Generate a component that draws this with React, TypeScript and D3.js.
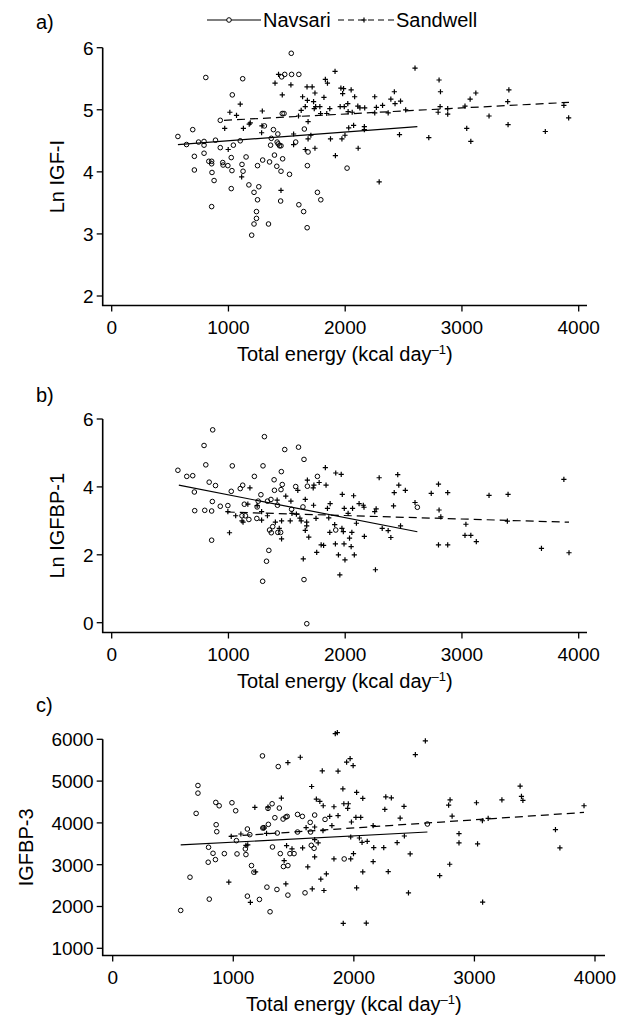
import React from "react";
import * as d3 from "d3";

// ---------- DATA ----------
const xTicks = [0, 1000, 2000, 3000, 4000];
const yTicksA = [2, 3, 4, 5, 6];
const yTicksB = [0, 2, 4, 6];
const yTicksC = [1000, 2000, 3000, 4000, 5000, 6000];
const seriesNames = ["Navsari", "Sandwell"];

// Panel a: Ln IGF-I
const navsariA: [number, number][] = [
  [567, 4.57], [641, 4.44], [694, 4.68], [708, 4.25], [708, 4.03], [744, 4.48], [791, 4.49], [791, 4.43],
  [791, 4.3], [806, 5.52], [832, 4.17], [856, 4.17], [856, 4.13], [859, 3.99], [856, 3.44], [877, 3.86],
  [889, 4.51], [930, 4.83], [930, 4.39], [951, 4.15], [954, 4.11], [995, 4.1], [1024, 4.23], [1024, 3.73],
  [1033, 5.24], [1030, 4.02], [1042, 4.43], [1101, 4.5], [1122, 5.5], [1116, 4.12], [1125, 4.01], [1151, 4.24],
  [1175, 3.79], [1219, 3.67], [1249, 3.55], [1260, 3.76], [1249, 4.1], [1240, 3.36], [1240, 3.25], [1219, 3.16],
  [1199, 2.98], [1293, 4.19], [1308, 4.74], [1343, 3.16], [1352, 4.16], [1367, 4.54], [1361, 4.43], [1385, 4.68],
  [1394, 4.27], [1414, 4.09], [1423, 4.61], [1417, 4.48], [1426, 4.45], [1438, 4.42], [1450, 4.42], [1450, 4.01],
  [1447, 3.53], [1456, 5.53], [1464, 4.21], [1461, 4.94], [1476, 4.94], [1482, 5.57], [1523, 3.96], [1538, 5.91],
  [1541, 5.57], [1576, 4.48], [1603, 5.57], [1603, 3.47], [1644, 3.36], [1650, 4.69], [1674, 3.1], [1676, 4.1],
  [1682, 4.32], [1762, 3.67], [1791, 3.55], [2016, 4.06],
];
const sandwellA: [number, number][] = [
  [968, 4.7], [998, 4.36], [1012, 4.96], [1069, 4.91], [1101, 5.09], [1113, 3.92], [1128, 4.7], [1178, 4.77],
  [1187, 4.79], [1290, 4.98], [1284, 4.63], [1287, 4.74], [1399, 5.43], [1429, 5.57], [1461, 5.24], [1450, 3.7],
  [1535, 5.4], [1558, 4.44], [1558, 4.61], [1600, 4.9], [1623, 4.99], [1635, 5.21], [1658, 5.05], [1673, 5.37],
  [1676, 5.15], [1682, 4.81], [1682, 4.53], [1658, 4.36], [1706, 4.59], [1717, 5.37], [1729, 5.13], [1741, 5.27],
  [1735, 5.02], [1747, 5.05], [1741, 4.38], [1783, 5.05], [1789, 4.94], [1818, 5.2], [1830, 5.49], [1848, 5.43],
  [1842, 4.94], [1874, 4.53], [1868, 5.02], [1913, 5.62], [1916, 4.26], [1957, 5.05], [1963, 5.35], [1978, 5.26],
  [1972, 4.53], [1986, 5.34], [1992, 5.05], [1998, 4.59], [2022, 5.1], [2025, 4.97], [2051, 5.32], [2030, 4.71],
  [2060, 4.96], [2081, 5.21], [2072, 4.75], [2108, 5.06], [2111, 4.38], [2126, 5.03], [2167, 5.03], [2164, 4.73],
  [2164, 4.68], [2253, 5.21], [2253, 4.95], [2267, 5.04], [2291, 3.84], [2320, 5.07], [2368, 4.95], [2391, 5.17],
  [2421, 5.29], [2427, 5.1], [2465, 4.6], [2474, 5.14], [2518, 5.0], [2598, 5.67], [2716, 4.55], [2796, 4.96],
  [2804, 5.48], [2813, 5.05], [2816, 5.29], [2878, 4.93], [2878, 5.02], [3026, 5.06], [3041, 4.7], [3070, 5.17],
  [3076, 4.49], [3119, 5.27], [3232, 4.9], [3392, 5.13], [3402, 5.32], [3395, 4.76], [3714, 4.65], [3873, 5.07],
  [3914, 4.87],
];
const fitNavsariA: [number, number][] = [[567, 4.44], [2618, 4.73]];
const fitSandwellA: [number, number][] = [[962, 4.83], [3917, 5.12]];

// Panel b: Ln IGFBP-1
const navsariB: [number, number][] = [
  [567, 4.49], [643, 4.31], [694, 4.33], [708, 3.85], [711, 3.3], [791, 5.22], [797, 3.31], [806, 4.65],
  [835, 4.14], [856, 3.29], [862, 3.57], [856, 2.43], [865, 5.68], [889, 4.04], [930, 3.43], [995, 3.45],
  [1024, 3.87], [1033, 4.62], [1101, 3.95], [1122, 4.05], [1136, 3.49], [1116, 3.15], [1145, 3.15], [1175, 3.04],
  [1222, 4.31], [1246, 3.41], [1243, 3.07], [1255, 3.58], [1278, 3.77], [1293, 1.22], [1296, 4.62], [1308, 5.48],
  [1326, 1.81], [1346, 2.13], [1334, 3.58], [1364, 3.63], [1352, 2.73], [1367, 2.65], [1379, 2.83], [1391, 4.21],
  [1394, 3.9], [1420, 3.46], [1423, 2.66], [1447, 2.66], [1450, 3.92], [1453, 4.45], [1461, 4.07], [1482, 5.1],
  [1541, 3.34], [1576, 4.01], [1600, 5.17], [1638, 3.41], [1647, 4.81], [1647, 1.27], [1671, -0.03], [1676, 4.02],
  [1762, 4.31], [1919, 2.73], [2618, 3.4],
];
const sandwellB: [number, number][] = [
  [995, 3.27], [1009, 2.65], [1062, 3.15], [1116, 3.0], [1125, 2.96], [1166, 3.49], [1184, 3.97], [1246, 3.45],
  [1284, 3.27], [1284, 3.02], [1334, 3.15], [1402, 2.96], [1417, 3.61], [1435, 2.78], [1455, 2.47], [1455, 3.0],
  [1491, 3.73], [1529, 3.0], [1535, 3.58], [1544, 3.22], [1582, 3.2], [1594, 3.9], [1612, 3.08], [1623, 3.0],
  [1641, 1.88], [1658, 3.63], [1658, 2.72], [1670, 2.85], [1676, 4.2], [1670, 2.96], [1688, 2.52], [1726, 3.97],
  [1732, 4.05], [1729, 3.46], [1750, 3.07], [1756, 2.07], [1777, 4.13], [1794, 2.29], [1815, 2.28], [1830, 4.57],
  [1836, 4.05], [1848, 3.37], [1859, 3.09], [1871, 3.51], [1868, 2.66], [1910, 2.89], [1919, 4.41], [1916, 2.32],
  [1942, 2.0], [1954, 1.41], [1966, 4.37], [1975, 3.78], [1972, 2.78], [1984, 2.68], [1990, 2.32], [1998, 1.85],
  [1992, 3.37], [2025, 3.22], [2037, 2.49], [2057, 2.66], [2063, 3.37], [2072, 3.74], [2078, 2.0], [2051, 2.24],
  [2096, 2.93], [2119, 3.51], [2155, 3.46], [2164, 2.54], [2161, 3.4], [2253, 3.27], [2265, 3.35], [2259, 1.56],
  [2291, 4.27], [2317, 2.78], [2368, 2.71], [2391, 2.51], [2414, 3.44], [2420, 3.83], [2450, 4.36], [2459, 4.05],
  [2474, 2.85], [2515, 3.9], [2598, 3.54], [2737, 3.81], [2799, 4.08], [2799, 2.29], [2804, 3.32], [2819, 3.12],
  [2878, 2.29], [2878, 3.83], [3026, 2.57], [3034, 2.9], [3076, 2.57], [3123, 2.39], [3232, 3.75], [3395, 3.78],
  [3389, 2.99], [3681, 2.19], [3873, 4.22], [3917, 2.06],
];
const fitNavsariB: [number, number][] = [[575, 4.05], [2618, 2.68]];
const fitSandwellB: [number, number][] = [[986, 3.26], [3917, 2.96]];

// Panel c: IGFBP-3
const navsariC: [number, number][] = [
  [564, 1906], [641, 2701], [692, 4227], [707, 4895], [707, 4712], [795, 3417], [792, 3059], [801, 2176],
  [832, 3273], [852, 3122], [855, 4490], [858, 3957], [863, 3790], [883, 4410], [926, 3265], [989, 4482],
  [1020, 4291], [1026, 3576], [1031, 3258], [1100, 3377], [1105, 3242], [1117, 3854], [1117, 2248], [1137, 3719],
  [1151, 2979], [1171, 2820], [1217, 2169], [1242, 5603], [1245, 3878], [1254, 3886], [1279, 2463], [1288, 4347],
  [1291, 3965], [1305, 1874], [1322, 4458], [1325, 3424], [1345, 4124], [1362, 2407], [1365, 3758], [1373, 5348],
  [1382, 4355], [1390, 3265], [1413, 4092], [1416, 2956], [1436, 4140], [1447, 4156], [1453, 2979], [1453, 2272],
  [1470, 3265], [1504, 3265], [1533, 4203], [1533, 3782], [1573, 4156], [1595, 2327], [1638, 4013], [1641, 3782],
  [1647, 3464], [1670, 3393], [1675, 4188], [1761, 4084], [1920, 3138], [2610, 3973],
];
const sandwellC: [number, number][] = [
  [963, 2582], [983, 3679], [1063, 3735], [1105, 3464], [1120, 3472], [1142, 2097], [1179, 4370], [1185, 2828],
  [1256, 3878], [1276, 3750], [1288, 4378], [1399, 4593], [1422, 3099], [1436, 2542], [1442, 3456], [1453, 5444],
  [1487, 3377], [1556, 5571], [1575, 3401], [1604, 3886], [1618, 2948], [1650, 4871], [1655, 2423], [1675, 3902],
  [1675, 3186], [1675, 3600], [1689, 4569], [1704, 3520], [1718, 4514], [1726, 2653], [1738, 5245], [1746, 4410],
  [1744, 3814], [1752, 2383], [1772, 2781], [1800, 4156], [1818, 3933], [1835, 4386], [1835, 3138], [1846, 6135],
  [1863, 6159], [1869, 5237], [1869, 4172], [1909, 4816], [1912, 1596], [1917, 4458], [1940, 5452], [1954, 4458],
  [1949, 4347], [1969, 5539], [1980, 4021], [1974, 3663], [1974, 3138], [1994, 5372], [1997, 3265], [2017, 4132],
  [2023, 4728], [2023, 2447], [2046, 3639], [2057, 4132], [2068, 3536], [2074, 4585], [2074, 2828], [2103, 1604],
  [2111, 3560], [2160, 3933], [2160, 3075], [2165, 3409], [2248, 3409], [2257, 4323], [2265, 4625], [2285, 2836],
  [2311, 4601], [2359, 3528], [2384, 4116], [2416, 4394], [2419, 3687], [2453, 2327], [2467, 3258], [2510, 5634],
  [2593, 5960], [2712, 2741], [2786, 4426], [2795, 3011], [2798, 4553], [2815, 4164], [2872, 3742], [2872, 3520],
  [3017, 4482], [3026, 3496], [3066, 4052], [3068, 2105], [3114, 4108], [3228, 4553], [3379, 4879], [3390, 4633],
  [3402, 4537], [3672, 3838], [3709, 3401], [3909, 4410],
];
const fitNavsariC: [number, number][] = [[564, 3472], [2610, 3782]];
const fitSandwellC: [number, number][] = [[969, 3679], [3909, 4251]];

// ---------- LAYOUT ----------
const FONT = "'Liberation Sans', Arial, Helvetica, sans-serif";
const TICK_FS = 19;
const LABEL_FS = 20;

type PanelSpec = {
  tag: string;
  yLabel: string;
  yLabelX: number;
  yTicks: number[];
  yRange: [number, number];
  yDomain: [number, number];
  xRange: [number, number];
  axisLeft: number;
  axisRight: number;
  axisBottom: number;
  tagY: number;
  navsari: [number, number][];
  sandwell: [number, number][];
  fitN: [number, number][];
  fitS: [number, number][];
};

const panels: PanelSpec[] = [
  {
    tag: "a)", yLabel: "Ln IGF-I", yLabelX: 57, yTicks: yTicksA, yDomain: [2, 6], yRange: [296, 47.7],
    xRange: [111.7, 578.7], axisLeft: 102.7, axisRight: 587, axisBottom: 305.5, tagY: 22,
    navsari: navsariA, sandwell: sandwellA, fitN: fitNavsariA, fitS: fitSandwellA,
  },
  {
    tag: "b)", yLabel: "Ln IGFBP-1", yLabelX: 57, yTicks: yTicksB, yDomain: [0, 6], yRange: [622.7, 419],
    xRange: [111.7, 578.7], axisLeft: 102.7, axisRight: 587, axisBottom: 632.5, tagY: 395,
    navsari: navsariB, sandwell: sandwellB, fitN: fitNavsariB, fitS: fitSandwellB,
  },
  {
    tag: "c)", yLabel: "IGFBP-3", yLabelX: 26, yTicks: yTicksC, yDomain: [1000, 6000], yRange: [948.3, 739.3],
    xRange: [112.7, 595], axisLeft: 102.7, axisRight: 605, axisBottom: 955.5, tagY: 705,
    navsari: navsariC, sandwell: sandwellC, fitN: fitNavsariC, fitS: fitSandwellC,
  },
];

const plusPath = "M-2.6,0H2.6M0,-2.6V2.6";

function Panel({ p }: { p: PanelSpec }) {
  const x = d3.scaleLinear().domain([0, 4000]).range(p.xRange);
  const y = d3.scaleLinear().domain(p.yDomain).range(p.yRange);
  const line = d3.line<[number, number]>().x((d) => x(d[0])).y((d) => y(d[1]));
  const yTop = y(p.yDomain[1]);
  const yMid = (yTop + p.axisBottom) / 2;
  const xMid = (p.axisLeft + p.axisRight) / 2;
  return (
    <g>
      <text x={36} y={p.tagY} dy="0.35em" fontSize={LABEL_FS} fontFamily={FONT}>{p.tag}</text>
      <path d={`M${p.axisLeft},${yTop}V${p.axisBottom}H${p.axisRight}`} fill="none" stroke="#000" strokeWidth={1.6} />
      {p.yTicks.map((t) => (
        <g key={"y" + t}>
          <line x1={p.axisLeft - 6} x2={p.axisLeft} y1={y(t)} y2={y(t)} stroke="#000" strokeWidth={1.3} />
          <text x={p.axisLeft - 9} y={y(t)} dy="0.36em" textAnchor="end" fontSize={TICK_FS} fontFamily={FONT}>{t}</text>
        </g>
      ))}
      {xTicks.map((t) => (
        <g key={"x" + t}>
          <line x1={x(t)} x2={x(t)} y1={p.axisBottom} y2={p.axisBottom + 6} stroke="#000" strokeWidth={1.3} />
          <text x={x(t)} y={p.axisBottom + 22} dy="0.36em" textAnchor="middle" fontSize={TICK_FS} fontFamily={FONT}>{t}</text>
        </g>
      ))}
      <text x={xMid} y={p.axisBottom + 48} dy="0.36em" textAnchor="middle" fontSize={LABEL_FS} fontFamily={FONT}>
        Total energy (kcal day
        <tspan fontSize={13} dy="-7">–1</tspan>
        <tspan dy="7">)</tspan>
      </text>
      <text transform={`translate(${p.yLabelX},${yMid}) rotate(-90)`} dy="0.36em" textAnchor="middle" fontSize={LABEL_FS} fontFamily={FONT}>{p.yLabel}</text>
      {p.navsari.map((d, i) => (
        <circle key={"n" + i} cx={x(d[0])} cy={y(d[1])} r={2.3} fill="none" stroke="#000" strokeWidth={1} />
      ))}
      {p.sandwell.map((d, i) => (
        <path key={"s" + i} d={plusPath} transform={`translate(${x(d[0])},${y(d[1])})`} stroke="#000" strokeWidth={1.2} fill="none" />
      ))}
      <path d={line(p.fitN) || ""} fill="none" stroke="#000" strokeWidth={1.2} />
      <path d={line(p.fitS) || ""} fill="none" stroke="#000" strokeWidth={1.2} strokeDasharray="8,5" />
    </g>
  );
}

function Legend() {
  const yL = 20;
  return (
    <g fontFamily={FONT} fontSize={LABEL_FS}>
      <line x1={207} x2={261} y1={yL} y2={yL} stroke="#000" strokeWidth={1.2} />
      <circle cx={229} cy={yL} r={2.3} fill="#fff" stroke="#000" strokeWidth={1} />
      <text x={263} y={yL} dy="0.36em">{seriesNames[0]}</text>
      <line x1={338} x2={394} y1={yL} y2={yL} stroke="#000" strokeWidth={1.2} strokeDasharray="6,4" />
      <path d={plusPath} transform={`translate(364,${yL})`} stroke="#000" strokeWidth={1.2} />
      <text x={396} y={yL} dy="0.36em">{seriesNames[1]}</text>
    </g>
  );
}

export default function App() {
  return (
    <div style={{ position: "absolute", left: 0, top: 0, width: 620, height: 1020, background: "#fff" }}>
      <svg width={620} height={1020} viewBox="0 0 620 1020" style={{ display: "block" }}>
        <rect width={620} height={1020} fill="#fff" />
        <Legend />
        {panels.map((p) => (
          <Panel key={p.tag} p={p} />
        ))}
      </svg>
    </div>
  );
}
